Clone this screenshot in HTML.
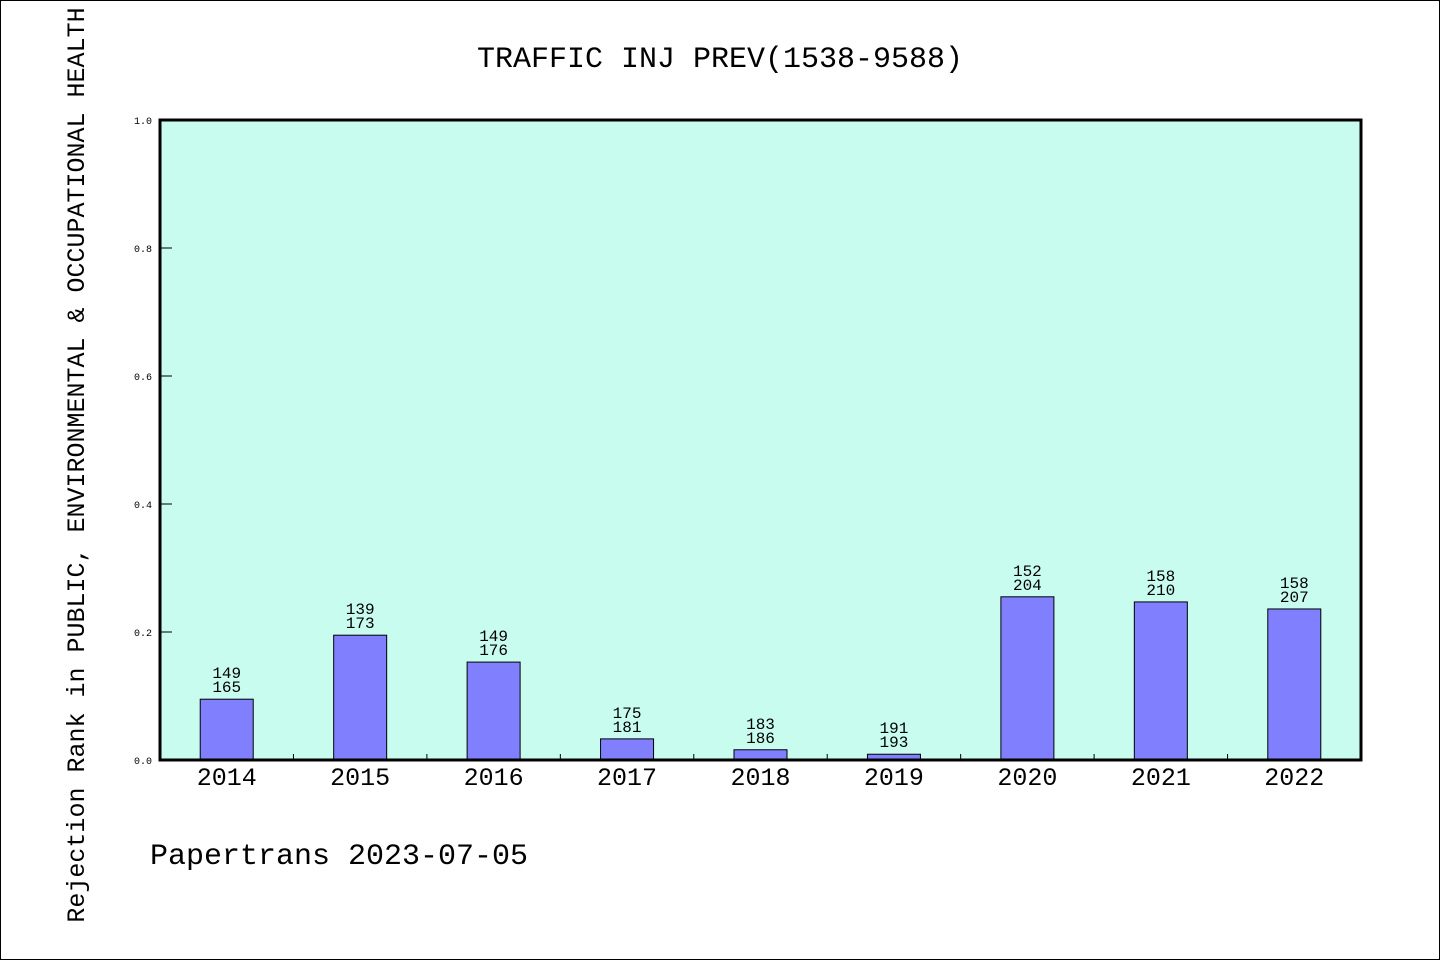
<!DOCTYPE html>
<html><head><meta charset="utf-8"><style>
html,body{margin:0;padding:0;background:#fff}
svg{display:block}
text{font-family:"Liberation Mono","DejaVu Sans Mono",monospace;fill:#000}
</style></head><body>
<svg id="chart" width="1440" height="960" xmlns="http://www.w3.org/2000/svg">
<rect x="0.5" y="0.5" width="1439" height="959" fill="#fff" stroke="#000"/>
<text x="720" y="67" font-size="30" text-anchor="middle">TRAFFIC INJ PREV(1538-9588)</text>
<rect x="160" y="120" width="1201" height="640" fill="#c8fcee"/>
<g id="yaxis"></g>
<g id="bars"></g>
<g id="xaxis"></g>
<rect x="160" y="120" width="1201" height="640" fill="none" stroke="#000" stroke-width="3"/>
<text transform="translate(84,465) rotate(-90)" font-size="25" text-anchor="middle">Rejection Rank in PUBLIC, ENVIRONMENTAL &amp; OCCUPATIONAL HEALTH</text>
<text x="150" y="864" font-size="30">Papertrans 2023-07-05</text>
</svg>
<script>
const categories=["2014","2015","2016","2017","2018","2019","2020","2021","2022"];
const values=[0.095,0.195,0.153,0.033,0.016,0.009,0.255,0.247,0.236];
const labelTop=["149","139","149","175","183","191","152","158","158"];
const labelBottom=["165","173","176","181","186","193","204","210","207"];
const yTicks=["0.0","0.2","0.4","0.6","0.8","1.0"];
const NS="http://www.w3.org/2000/svg";
const X0=160,X1=1361,Y0=760,Y1=120;
const band=(X1-X0)/categories.length;
const xs=i=>X0+band*(i+0.5);
const ys=v=>Y0-(Y0-Y1)*v;
function mk(tag,attrs,parent,txt){const e=document.createElementNS(NS,tag);for(const k in attrs)e.setAttribute(k,attrs[k]);if(txt!==undefined)e.textContent=txt;parent.appendChild(e);return e;}
const ya=document.getElementById('yaxis'),ba=document.getElementById('bars'),xa=document.getElementById('xaxis');
yTicks.forEach(t=>{const y=ys(parseFloat(t));
 const l=mk('line',{x1:160,x2:172,y1:y,y2:y,stroke:'#000','stroke-width':1},ya);
 
 
 const tx=mk('text',{x:152,y:y+4,'font-size':10,'text-anchor':'end'},ya,t);
 
 
});
const bw=53;
categories.forEach((c,i)=>{const cx=xs(i),y=ys(values[i]);
 const r=mk('rect',{x:cx-bw/2,y:y,width:bw,height:Y0-y,fill:'#8080ff',stroke:'#000','stroke-width':1},ba);
 
 
 const t1=mk('text',{x:cx,y:y-21,'font-size':16,'text-anchor':'middle'},ba,labelTop[i]);
 
 
 const t2=mk('text',{x:cx,y:y-7,'font-size':16,'text-anchor':'middle'},ba,labelBottom[i]);
 
 
 const xl=mk('text',{x:cx,y:785,'font-size':25,'text-anchor':'middle'},xa,c);
 
 
 if(i>0){const bx=X0+band*i;
  const tk=mk('line',{x1:bx,x2:bx,y1:754,y2:760,stroke:'#000','stroke-width':1},xa);
  
  }
});
</script>
</body></html>
